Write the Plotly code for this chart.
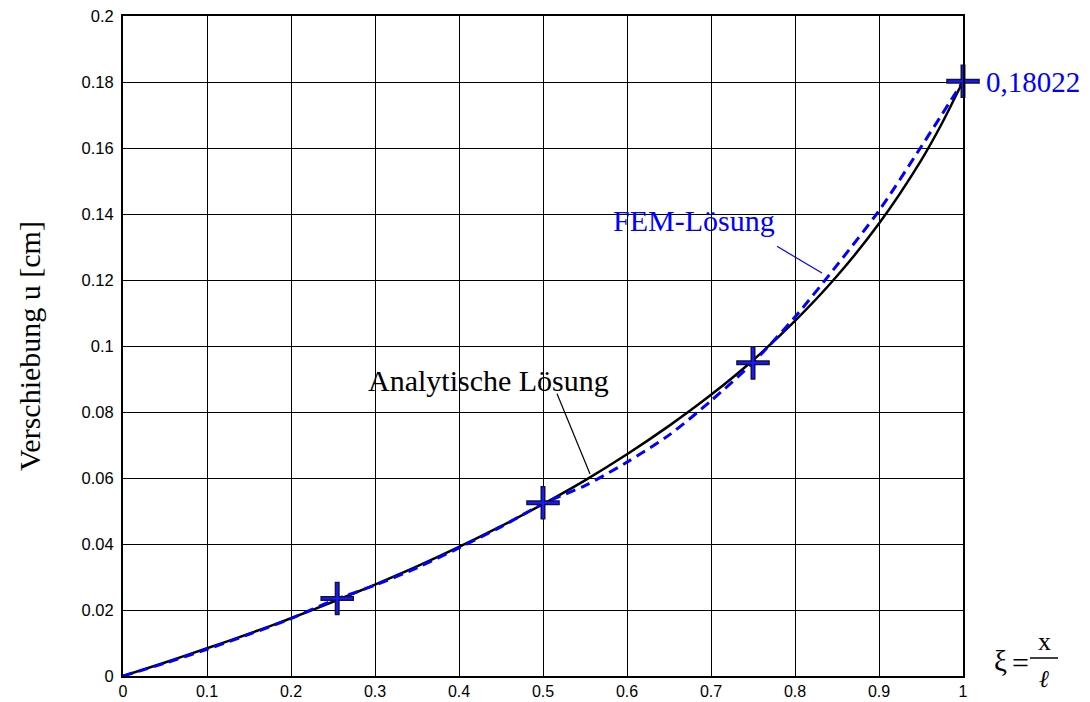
import plotly.graph_objects as go

# ---- data ----
xi_analytic = [0.0, 0.05, 0.10, 0.15, 0.20, 0.25, 0.30, 0.35, 0.40, 0.45, 0.50,
               0.55, 0.60, 0.65, 0.70, 0.75, 0.80, 0.85, 0.90, 0.95, 0.975, 1.0]
u_analytic = [0.0, 0.0041, 0.0084, 0.0128, 0.0175, 0.0225, 0.0277, 0.0332, 0.0391, 0.0454, 0.0521,
              0.0593, 0.0672, 0.0758, 0.0852, 0.0957, 0.1076, 0.1212, 0.1371, 0.1562, 0.1675, 0.18022]

xi_fem = [0.0, 0.05, 0.10, 0.15, 0.20, 0.25, 0.30, 0.35, 0.40, 0.45, 0.50,
          0.55, 0.60, 0.65, 0.70, 0.75, 0.80, 0.85, 0.90, 0.95, 1.0]
u_fem = [0.0, 0.0039, 0.0081, 0.0126, 0.0174, 0.0229, 0.0275, 0.0328, 0.0388, 0.0452, 0.0522,
         0.0577, 0.0648, 0.0730, 0.0834, 0.0950, 0.1088, 0.1245, 0.1410, 0.1603, 0.18022]

xi_nodes = [0.255, 0.50, 0.75, 1.0]
u_nodes = [0.0235, 0.0525, 0.0949, 0.18022]

x_ticks = [0, 0.1, 0.2, 0.3, 0.4, 0.5, 0.6, 0.7, 0.8, 0.9, 1]
x_ticktext = ["0", "0.1", "0.2", "0.3", "0.4", "0.5", "0.6", "0.7", "0.8", "0.9", "1"]
y_ticks = [0, 0.02, 0.04, 0.06, 0.08, 0.1, 0.12, 0.14, 0.16, 0.18, 0.2]
y_ticktext = ["0", "0.02", "0.04", "0.06", "0.08", "0.1", "0.12", "0.14", "0.16", "0.18", "0.2"]

end_label = "0,18022"
fem_label = "FEM-Lösung"
ana_label = "Analytische Lösung"
y_title = "Verschiebung u [cm]"

SERIF = "Liberation Serif, Times New Roman, serif"
SANS = "Liberation Sans, Arial, sans-serif"
BLUE = "#0000ff"

fig = go.Figure()
fig.add_trace(go.Scatter(x=xi_analytic, y=u_analytic, mode="lines",
                         line=dict(color="black", width=2.5, shape="spline", smoothing=0.8),
                         showlegend=False, hoverinfo="skip"))
fig.add_trace(go.Scatter(x=xi_fem, y=u_fem, mode="lines",
                         line=dict(color=BLUE, width=3, dash="10px,6px", shape="spline", smoothing=0.8),
                         showlegend=False, hoverinfo="skip"))
fig.add_trace(go.Scatter(x=xi_nodes, y=u_nodes, mode="markers",
                         marker=dict(symbol="cross-thin", size=24,
                                     line=dict(color="#10104a", width=5)),
                         showlegend=False, hoverinfo="skip", cliponaxis=False))
fig.add_trace(go.Scatter(x=xi_nodes, y=u_nodes, mode="markers",
                         marker=dict(symbol="cross-thin", size=22,
                                     line=dict(color="#1a1aff", width=2)),
                         showlegend=False, hoverinfo="skip", cliponaxis=False))

fig.update_xaxes(range=[0, 1], tickvals=x_ticks, ticktext=x_ticktext,
                 showgrid=True, gridcolor="black", gridwidth=1.2,
                 showline=True, linecolor="black", linewidth=2, mirror=True,
                 ticks="", zeroline=False, automargin=False,
                 tickfont=dict(family=SANS, size=16, color="black"))
fig.update_yaxes(range=[0, 0.2], tickvals=y_ticks, ticktext=y_ticktext,
                 showgrid=True, gridcolor="black", gridwidth=1.2,
                 showline=True, linecolor="black", linewidth=2, mirror=True,
                 ticks="", zeroline=False, ticklabelstandoff=4, automargin=False,
                 tickfont=dict(family=SANS, size=16.5, color="black"))


def px(xp):
    return (xp - 123) / 840


def py(yp):
    return (676 - yp) / 660


annotations = [
    dict(x=px(984), y=py(82), xref="paper", yref="paper", text=end_label, showarrow=False,
         xanchor="left", yanchor="middle", font=dict(family=SERIF, size=29, color=BLUE)),
    dict(x=px(694), y=py(220), xref="paper", yref="paper", text=fem_label, showarrow=False,
         xanchor="center", yanchor="middle", font=dict(family=SERIF, size=30, color=BLUE)),
    dict(x=px(488), y=py(380), xref="paper", yref="paper", text=ana_label, showarrow=False,
         xanchor="center", yanchor="middle", font=dict(family=SERIF, size=30, color="black")),
    dict(x=px(29), y=py(346), xref="paper", yref="paper", text=y_title,
         showarrow=False, textangle=-90, xanchor="center", yanchor="middle",
         font=dict(family=SERIF, size=30, color="black")),
    dict(x=px(1000), y=py(661), xref="paper", yref="paper", text="ξ",
         showarrow=False, xanchor="center", yanchor="middle",
         font=dict(family=SERIF, size=29, color="black")),
    dict(x=px(1020), y=py(662), xref="paper", yref="paper", text="=",
         showarrow=False, xanchor="center", yanchor="middle",
         font=dict(family=SERIF, size=30, color="black")),
    dict(x=px(1044), y=py(641), xref="paper", yref="paper", text="x",
         showarrow=False, xanchor="center", yanchor="middle",
         font=dict(family=SERIF, size=26, color="black")),
    dict(x=px(1044), y=py(679), xref="paper", yref="paper", text="<i>ℓ</i>",
         showarrow=False, xanchor="center", yanchor="middle",
         font=dict(family=SERIF, size=24, color="black")),
]

shapes = [
    dict(type="line", xref="x", yref="y", x0=0.7786, y0=0.1302, x1=0.8321, y1=0.1221,
         line=dict(color=BLUE, width=1.2)),
    dict(type="line", xref="x", yref="y", x0=0.5167, y0=0.0855, x1=0.5560, y1=0.0612,
         line=dict(color="black", width=1.2)),
    dict(type="line", xref="paper", yref="paper",
         x0=px(1030), x1=px(1058), y0=py(658), y1=py(658),
         line=dict(color="black", width=1.5)),
]

fig.update_layout(width=1090, height=702, margin=dict(l=123, r=127, t=16, b=26),
                  plot_bgcolor="white", paper_bgcolor="white",
                  annotations=annotations, shapes=shapes)

fig.write_html("out.html", config={"displayModeBar": False},
               post_script="document.body.style.margin='0';")
